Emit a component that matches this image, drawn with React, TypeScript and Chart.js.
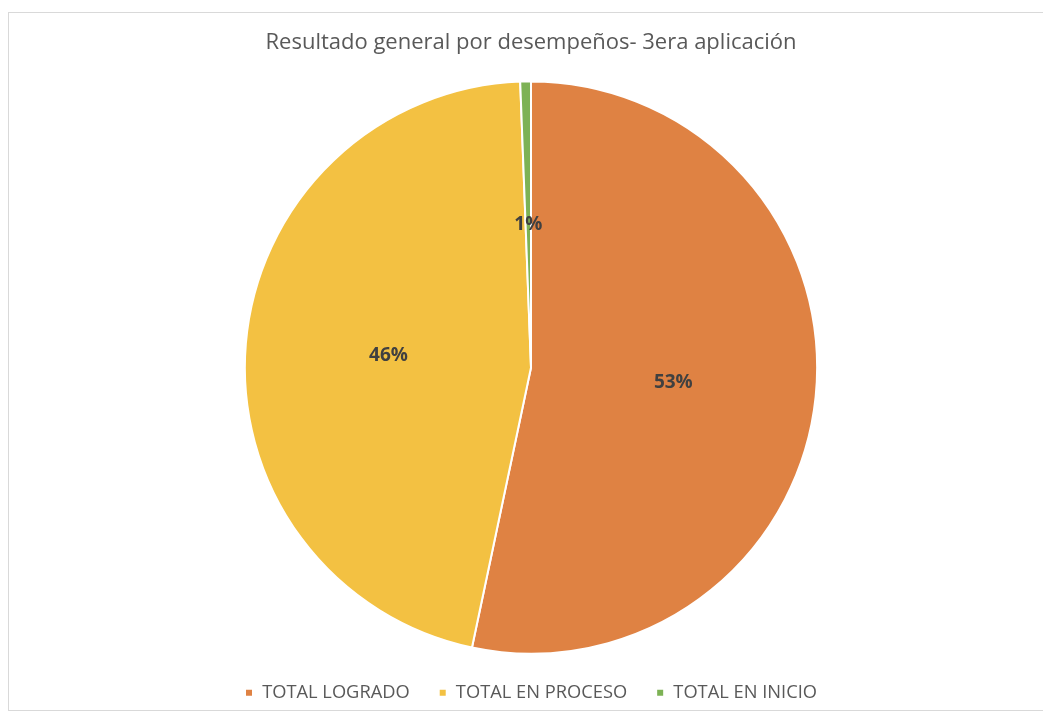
import React, { useEffect, useRef } from "react";
import { Chart, registerables } from "chart.js";

Chart.register(...registerables);

const categories: string[] = ["TOTAL LOGRADO", "TOTAL EN PROCESO", "TOTAL EN INICIO"];
const values: number[] = [266, 230, 3];
const colors: string[] = ["#DF8243", "#F3C142", "#7DB255"];
const chartTitle = "Resultado general por desempeños- 3era aplicación";

const labelPlugin = {
  id: "pctLabels",
  afterDatasetsDraw(chart: any) {
    const ctx = chart.ctx;
    const meta = chart.getDatasetMeta(0);
    const data = chart.data.datasets[0].data as number[];
    const total = data.reduce((a, b) => a + b, 0);
    ctx.save();
    ctx.font = "bold 19px 'Open Sans', sans-serif";
    ctx.fillStyle = "#404040";
    ctx.textAlign = "center";
    ctx.textBaseline = "middle";
    meta.data.forEach((arc: any, i: number) => {
      const p = arc.getProps(["x", "y", "startAngle", "endAngle", "outerRadius"], true);
      const mid = (p.startAngle + p.endAngle) / 2;
      const r = p.outerRadius * 0.5;
      const x = p.x + Math.cos(mid) * r;
      const y = p.y + Math.sin(mid) * r;
      ctx.fillText(Math.round((data[i] / total) * 100) + "%", x, y);
    });
    ctx.restore();
  },
};

export default function App() {
  const ref = useRef<HTMLCanvasElement>(null);
  useEffect(() => {
    document.body.style.overflow = "hidden";
    const chart = new Chart(ref.current as HTMLCanvasElement, {
      type: "pie",
      data: {
        labels: categories,
        datasets: [
          {
            data: values,
            backgroundColor: colors,
            borderColor: "#ffffff",
            borderWidth: 2,
          },
        ],
      },
      options: {
        animation: false,
        responsive: false,
        layout: { padding: { left: 19, right: 0, top: 0, bottom: 4 } },
        plugins: {
          title: {
            display: true,
            text: chartTitle,
            color: "#595959",
            font: { family: "'Open Sans', sans-serif", size: 22, weight: "normal" },
            padding: { top: 30, bottom: 24 },
          },
          legend: {
            position: "bottom",
            labels: {
              color: "#595959",
              font: { family: "'Open Sans', sans-serif", size: 18.3 },
              boxWidth: 8,
              boxHeight: 8,
              padding: 29,
            },
          },
          tooltip: { enabled: false },
        },
      },
      plugins: [labelPlugin],
    });
    return () => chart.destroy();
  }, []);
  return (
    <div style={{ position: "fixed", left: 0, top: 0, width: 1043, height: 716, background: "#fff" }}>
      <div
        style={{
          position: "absolute",
          left: 8,
          top: 12,
          width: 1100,
          height: 699,
          border: "1px solid #d9d9d9",
          boxSizing: "border-box",
        }}
      />
      <canvas ref={ref} width={1043} height={716} style={{ position: "absolute", left: 0, top: 0 }} />
    </div>
  );
}
